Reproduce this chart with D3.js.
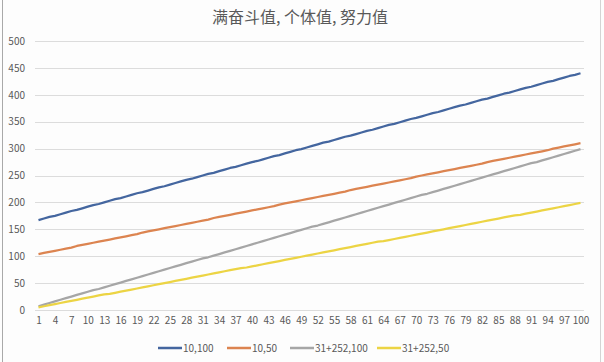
<!DOCTYPE html>
<html>
<head>
<meta charset="utf-8">
<script src="https://cdn.jsdelivr.net/npm/d3@7/dist/d3.min.js"></script>
<style>
  body { margin: 0; background: #fff; }
  text { font-family: "Noto Sans CJK SC", "Noto Sans", sans-serif; fill: #595959; }
</style>
</head>
<body>
<svg id="chart" width="604" height="362"></svg>
<script>
// Data
var title = "满奋斗值, 个体值, 努力值";
var levels = d3.range(1, 101);
var xTicks = [1,4,7,10,13,16,19,22,25,28,31,34,37,40,43,46,49,52,55,58,61,64,67,70,73,76,79,82,85,88,91,94,97,100];
var yTicks = [0,50,100,150,200,250,300,350,400,450,500];
var seriesNames = ["10,100", "10,50", "31+252,100", "31+252,50"];

var blue = [167,170,173,175,178,181,184,186,189,192,195,197,200,203,206,208,211,214,217,219,
  222,225,228,230,233,236,239,242,244,247,250,253,255,258,261,264,266,269,272,275,
  277,280,283,286,288,291,294,297,299,302,305,308,311,313,316,319,322,324,327,330,
  333,335,338,341,344,346,349,352,355,357,360,363,366,368,371,374,377,380,382,385,
  388,391,393,396,399,402,404,407,410,413,415,418,421,424,426,429,432,435,437,440];
var orange = [104,106,108,110,112,114,116,119,121,123,125,127,129,131,133,135,137,139,141,144,
  146,148,150,152,154,156,158,160,162,164,166,168,171,173,175,177,179,181,183,185,
  187,189,191,193,196,198,200,202,204,206,208,210,212,214,216,218,220,223,225,227,
  229,231,233,235,237,239,241,243,245,248,250,252,254,256,258,260,262,264,266,268,
  270,272,275,277,279,281,283,285,287,289,291,293,295,297,300,302,304,306,308,310];
var gray = [7,10,13,16,19,22,25,28,31,34,37,39,42,45,48,51,54,57,60,63,
  66,69,72,75,78,81,84,87,90,93,96,98,101,104,107,110,113,116,119,122,
  125,128,131,134,137,140,143,146,149,152,155,157,160,163,166,169,172,175,178,181,
  184,187,190,193,196,199,202,205,208,211,214,216,219,222,225,228,231,234,237,240,
  243,246,249,252,255,258,261,264,267,270,273,275,278,281,284,287,290,293,296,299];
var yellow = [5,7,9,11,13,15,17,19,21,23,25,27,29,30,32,34,36,38,40,42,
  44,46,48,50,52,54,56,58,60,62,64,66,68,70,72,74,76,78,79,81,
  83,85,87,89,91,93,95,97,99,101,103,105,107,109,111,113,115,117,119,121,
  123,125,127,128,130,132,134,136,138,140,142,144,146,148,150,152,154,156,158,160,
  162,164,166,168,170,172,174,176,177,179,181,183,185,187,189,191,193,195,197,199];

var colors = ["#44669f", "#dc8450", "#a6a6a6", "#ecd444"];
var seriesValues = [blue, orange, gray, yellow];

var svg = d3.select("svg#chart");

// frame
svg.append("rect").attr("x", 0).attr("y", 0).attr("width", 604).attr("height", 362).attr("fill", "#fdfdfd");
svg.append("line").attr("x1", 2.5).attr("x2", 2.5).attr("y1", 0).attr("y2", 362).attr("stroke", "#a9a9a9");
svg.append("line").attr("x1", 600.5).attr("x2", 600.5).attr("y1", 0).attr("y2", 362).attr("stroke", "#d4d4d4");

var x = d3.scalePoint().domain(levels).range([38.5, 580.5]);
var y = d3.scaleLinear().domain([0, 500]).range([310, 41]);

// title
svg.append("text").attr("x", 300).attr("y", 23).attr("text-anchor", "middle")
  .style("font-size", "16px").text(title);

// grid
svg.append("g").selectAll("line").data(yTicks).enter().append("line")
  .attr("x1", 35).attr("x2", 584)
  .attr("y1", function(d) { return Math.round(y(d)) + 0.5; })
  .attr("y2", function(d) { return Math.round(y(d)) + 0.5; })
  .attr("stroke", "#dcdcdc").attr("stroke-width", 1);

// y axis labels
var yAxis = d3.axisLeft(y).tickValues(yTicks).tickSize(0).tickPadding(0);
var gy = svg.append("g").attr("transform", "translate(25,0)").call(yAxis);
gy.select(".domain").remove();
gy.selectAll("text").style("font-size", "10px").attr("fill", "#595959");

// x axis labels
var xAxis = d3.axisBottom(x).tickValues(xTicks).tickSize(0).tickPadding(0);
var gx = svg.append("g").attr("transform", "translate(0,317)").call(xAxis);
gx.select(".domain").remove();
gx.selectAll("text").style("font-size", "10px").attr("fill", "#595959");

// lines
var line = d3.line().x(function(d, i) { return x(levels[i]); }).y(function(d) { return y(d); });
seriesValues.forEach(function(vals, k) {
  svg.append("path").datum(vals).attr("fill", "none")
    .attr("stroke", colors[k]).attr("stroke-width", 2.25)
    .attr("stroke-linejoin", "round").attr("d", line);
});

// legend
var legendX = [158, 227, 290, 377];
var lg = svg.append("g").selectAll("g").data(seriesNames).enter().append("g")
  .attr("transform", function(d, i) { return "translate(" + legendX[i] + ",348)"; });
lg.append("line").attr("x1", 0).attr("x2", 24).attr("y1", 0).attr("y2", 0)
  .attr("stroke", function(d, i) { return colors[i]; }).attr("stroke-width", 2.5);
lg.append("text").attr("x", 25).attr("y", 3.5).style("font-size", "10px").text(function(d) { return d; });
</script>
</body>
</html>
